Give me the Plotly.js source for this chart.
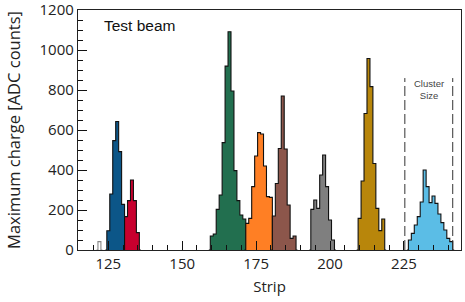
<!DOCTYPE html>
<html>
<head>
<meta charset="utf-8">
<script src="https://cdn.plot.ly/plotly-3.0.1.min.js"></script>
<style>html,body{margin:0;padding:0;background:#fff;}#chart{width:465px;height:302px;}</style>
</head>
<body>
<div id="chart"></div>
<script>
// Strip numbers (bin centres) and maximum charge counts for each histogram
const smallStrips = [122];
const smallCounts = [42];
const blueStrips = [125, 126, 127, 128, 129, 130];
const blueCounts = [96, 280, 547, 643, 492, 228];
const redStrips = [131, 132, 133, 134, 135];
const redCounts = [167, 247, 350, 247, 87];
const greenStrips = [160, 161, 162, 163, 164, 165, 166, 167, 168, 169, 170, 171];
const greenCounts = [70, 80, 203, 275, 537, 920, 1092, 795, 397, 247, 175, 155];
const orangeStrips = [172, 173, 174, 175, 176, 177, 178, 179, 180];
const orangeCounts = [133, 158, 317, 470, 587, 580, 420, 267, 263];
const brownStrips = [181, 182, 183, 184, 185, 186, 187, 188];
const brownCounts = [170, 333, 508, 770, 505, 225, 58, 70];
const grayStrips = [194, 195, 196, 197, 198, 199, 200, 201];
const grayCounts = [203, 250, 208, 375, 475, 317, 150, 50];
const goldStrips = [210, 211, 212, 213, 214, 215, 216, 217, 218];
const goldCounts = [158, 345, 683, 958, 817, 433, 208, 97, 155];
const lightStrips = [227, 228, 229, 230, 231, 232, 233, 234, 235, 236, 237, 238, 239, 240, 241];
const lightCounts = [50, 83, 125, 167, 240, 400, 317, 237, 270, 233, 180, 137, 100, 58, 42];
const clusterBounds = [225.3, 241.5];
const clusterTop = 860;
const xTickLabels = ['125', '150', '175', '200', '225'];
const yTickLabels = ['0', '200', '400', '600', '800', '1000', '1200'];

function stepTrace(strips, counts, color, lineColor) {
  const x = [strips[0] - 1].concat(strips, [strips[strips.length - 1] + 1]);
  const y = [0].concat(counts, [0]);
  return {
    type: 'scatter', mode: 'lines', x: x, y: y,
    line: {shape: 'hvh', color: lineColor || '#111', width: 1.1},
    fill: 'tozeroy', fillcolor: color, hoverinfo: 'skip', showlegend: false
  };
}

const traces = [
  stepTrace(smallStrips, smallCounts, '#ffffff', '#888'),
  stepTrace(blueStrips, blueCounts, '#0c5688'),
  stepTrace(redStrips, redCounts, '#c8002e'),
  stepTrace(greenStrips, greenCounts, '#226f4f'),
  stepTrace(orangeStrips, orangeCounts, '#ff7f24'),
  stepTrace(brownStrips, brownCounts, '#8c564b'),
  stepTrace(grayStrips, grayCounts, '#7f7f7f'),
  stepTrace(goldStrips, goldCounts, '#b8860b'),
  stepTrace(lightStrips, lightCounts, '#5bbde6')
];
clusterBounds.forEach(b => traces.push({
  type: 'scatter', mode: 'lines', x: [b, b], y: [0, clusterTop],
  line: {color: '#333', width: 1, dash: '10px,4px'}, hoverinfo: 'skip', showlegend: false
}));

const tickFont = {family: 'Open Sans, sans-serif', size: 15, color: '#222'};
const yTitleFont = {family: 'Open Sans, sans-serif', size: 16.5, color: '#222'};
const layout = {
  width: 465, height: 302,
  margin: {l: 78, r: 4, t: 10, b: 52},
  paper_bgcolor: '#fff', plot_bgcolor: '#fff',
  showlegend: false,
  xaxis: {
    range: [114.75, 244.3], showgrid: false, zeroline: false,
    tickmode: 'array', tickvals: xTickLabels.map(Number), ticktext: xTickLabels,
    ticks: 'inside', ticklen: 9, tickwidth: 1, tickcolor: '#111',
    minor: {tickmode: 'linear', tick0: 115, dtick: 5, ticks: 'inside', ticklen: 5, tickcolor: '#111', tickwidth: 1, showgrid: false},
    showline: true, linecolor: '#222', linewidth: 1.2, mirror: true,
    tickfont: tickFont, ticklabeloverflow: 'allow',
    title: {text: 'Strip', font: tickFont, standoff: 9}
  },
  yaxis: {
    range: [0, 1200.5], showgrid: false, zeroline: false,
    tickmode: 'array', tickvals: yTickLabels.map(Number), ticktext: yTickLabels,
    ticks: 'inside', ticklen: 9, tickwidth: 1, tickcolor: '#111',
    minor: {tickmode: 'linear', tick0: 0, dtick: 50, ticks: 'inside', ticklen: 5, tickcolor: '#111', tickwidth: 1, showgrid: false},
    showline: true, linecolor: '#222', linewidth: 1.2, mirror: true,
    tickfont: tickFont, ticklabeloverflow: 'allow',
    title: {text: 'Maximum charge [ADC counts]', font: yTitleFont, standoff: 14}
  },
  annotations: [
    {xref: 'paper', yref: 'paper', x: 0.062, y: 0.9375, xanchor: 'left', yanchor: 'middle',
     text: 'Test beam', showarrow: false, font: {family: 'Liberation Sans, Arial, sans-serif', size: 15.5, color: '#111', weight: 400}},
    {xref: 'x', yref: 'y', x: 233.6, y: 805, xanchor: 'center', yanchor: 'middle',
     text: 'Cluster<br>Size', showarrow: false, font: {family: 'Liberation Sans, Arial, sans-serif', size: 9.5, color: '#444'}}
  ]
};

Plotly.newPlot('chart', traces, layout, {staticPlot: true, displayModeBar: false});
</script>
</body>
</html>
